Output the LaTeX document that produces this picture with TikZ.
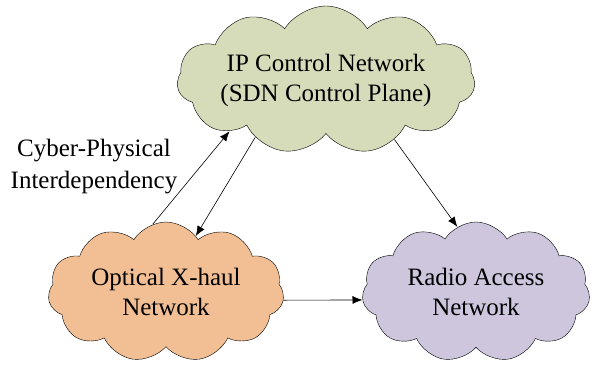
\documentclass[tikz,border=0pt]{standalone}
\usepackage{fontspec}
\setmainfont{Liberation Serif}
\usetikzlibrary{shapes.symbols,arrows.meta}
\definecolor{ipgreen}{RGB}{214,220,186}
\definecolor{optorange}{RGB}{242,191,149}
\definecolor{ranpurple}{RGB}{205,198,221}
\tikzset{
    net-cloud/.style = {cloud, cloud puffs=11, cloud puff arc=115, cloud ignores aspect, draw=black, thin, align=center, inner sep=0pt, font=\fontsize{25}{30}\selectfont},
    net-arrow/.style = {-{Latex[length=10pt,width=8pt]}, line width=0.6pt},
}

\begin{document}
\begin{tikzpicture}[x=1pt,y=1pt]
\useasboundingbox (0,0) rectangle (594,367);
\node [net-cloud, fill=ipgreen, minimum width=258pt, minimum height=148pt] (ip) at (326,287) {IP Control Network\\(SDN Control Plane)};
\node [net-cloud, fill=optorange, minimum width=236pt, minimum height=140pt] (opt) at (166,75) {Optical X-haul\\Network};
\node [net-cloud, fill=ranpurple, minimum width=228pt, minimum height=140pt] (ran) at (476,75) {Radio Access\\Network};
\node [align=center, font=\fontsize{25}{32}\selectfont] (cpi) at (94,200) {Cyber-Physical\\Interdependency};
\draw [net-arrow] (opt.101) -- (ip.208);
\draw [net-arrow] (ip.219) -- (opt.62);
\draw [net-arrow] (ip.319) -- (ran.106);
\draw [net-arrow] (opt.-4) -- (ran.184);
\end{tikzpicture}
\end{document}
